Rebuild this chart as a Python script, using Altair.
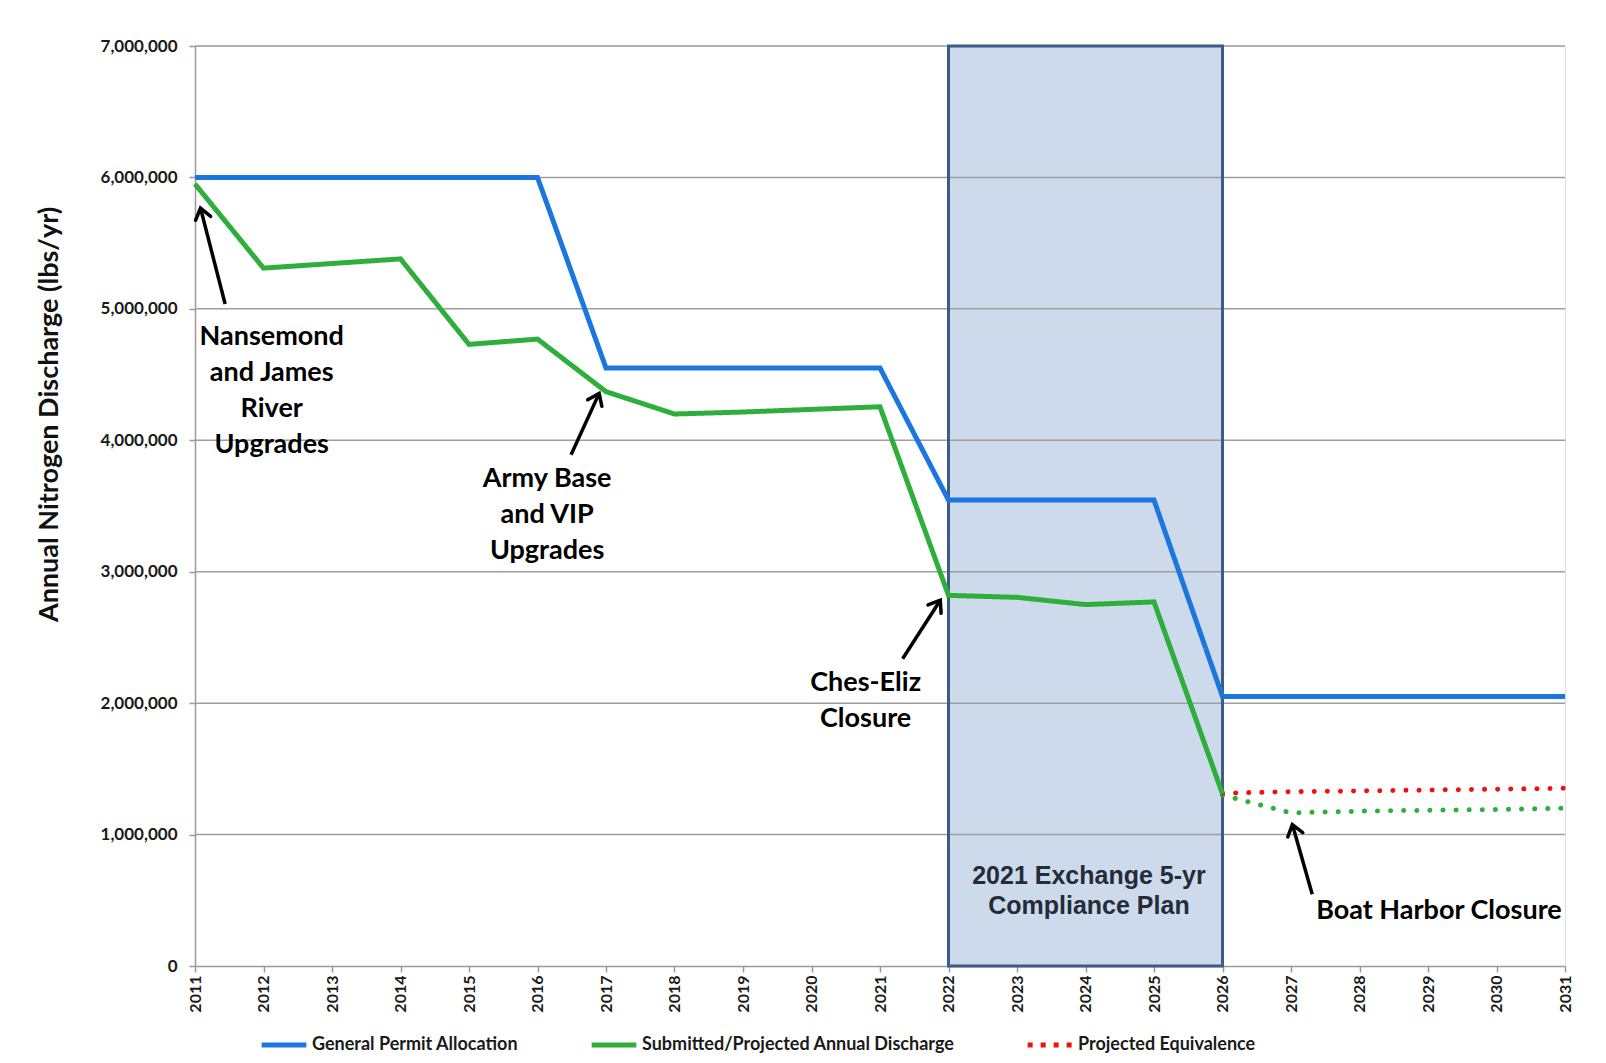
import math
import altair as alt
import pandas as pd

# ---------------- data ----------------
years = [2011, 2012, 2013, 2014, 2015, 2016, 2017, 2018, 2019, 2020, 2021,
         2022, 2023, 2024, 2025, 2026, 2027, 2028, 2029, 2030, 2031]
permit = [6.0e6, 6.0e6, 6.0e6, 6.0e6, 6.0e6, 6.0e6, 4.55e6, 4.55e6, 4.55e6, 4.55e6, 4.55e6,
          3.545e6, 3.545e6, 3.545e6, 3.545e6, 2.05e6, 2.05e6, 2.05e6, 2.05e6, 2.05e6, 2.05e6]

submitted_years = [2011, 2012, 2013, 2014, 2015, 2016, 2017, 2018, 2019, 2020, 2021,
                   2022, 2023, 2024, 2025, 2026]
submitted = [5.95e6, 5.31e6, 5.345e6, 5.38e6, 4.73e6, 4.77e6, 4.37e6, 4.20e6, 4.215e6, 4.235e6,
             4.255e6, 2.82e6, 2.805e6, 2.75e6, 2.77e6, 1.31e6]

proj_years = [2026, 2027, 2028, 2029, 2030, 2031]
equivalence = [1.315e6, 1.326e6, 1.332e6, 1.339e6, 1.345e6, 1.352e6]
projected_discharge = [1.30e6, 1.165e6, 1.178e6, 1.185e6, 1.19e6, 1.20e6]

series_names = ["General Permit Allocation", "Submitted/Projected Annual Discharge",
                "Projected Equivalence"]
series_colors = ["#1B76DE", "#2EAE3B", "#F01010"]

y_ticks = [0, 1000000, 2000000, 3000000, 4000000, 5000000, 6000000, 7000000]

plan_start, plan_end = 2022, 2026
plan_label = "2021 Exchange 5-yr\nCompliance Plan"
plan_label_x, plan_label_y = 2024.05, 0.686e6

notes = ["Nansemond\nand James\nRiver\nUpgrades", "Army Base\nand VIP\nUpgrades",
         "Ches-Eliz\nClosure", "Boat Harbor Closure"]
note_x = [2012.12, 2016.14, 2020.79, 2029.16]
note_y = [4.786e6, 3.702e6, 2.151e6, 0.421e6]

arrow_tail_x = [2011.44, 2016.49, 2021.33, 2027.31]
arrow_tail_y = [5.037e6, 3.89e6, 2.338e6, 0.546e6]
arrow_head_x = [2011.08, 2016.90, 2021.88, 2027.02]
arrow_head_y = [5.767e6, 4.357e6, 2.783e6, 1.076e6]

# ---------------- layout ----------------
W, H = 1370, 920
px_year = W / (years[-1] - years[0])
px_unit = H / y_ticks[-1]

FONT = "Lato"

rows = []
for yr, v in zip(years, permit):
    rows.append({"year": yr, "value": v, "series": series_names[0]})
for yr, v in zip(submitted_years, submitted):
    rows.append({"year": yr, "value": v, "series": series_names[1]})
lines_df = pd.DataFrame(rows)

equiv_df = pd.DataFrame({"year": proj_years, "value": equivalence})
dotted_df = pd.DataFrame({"year": proj_years, "value": projected_discharge})

angles = []
for tx, ty, hx, hy in zip(arrow_tail_x, arrow_tail_y, arrow_head_x, arrow_head_y):
    dx = (hx - tx) * px_year
    dy_up = (hy - ty) * px_unit
    angles.append(math.degrees(math.atan2(dx, dy_up)) % 360)
arrows_df = pd.DataFrame({"year": arrow_tail_x, "value": arrow_tail_y,
                          "hx": arrow_head_x, "hy": arrow_head_y, "angle": angles})
notes_df = pd.DataFrame({"year": note_x, "value": note_y, "text": notes})
plan_df = pd.DataFrame({"year": [plan_start], "x2": [plan_end], "value": [y_ticks[0]],
                        "y2": [y_ticks[-1]], "text": [plan_label],
                        "lx": [plan_label_x], "ly": [plan_label_y]})
grid_df = pd.DataFrame({"value": y_ticks[1:]})

x_scale = alt.Scale(domain=[years[0], years[-1]], nice=False, zero=False)
y_scale = alt.Scale(domain=[y_ticks[0], y_ticks[-1]], nice=False)

x_axis = alt.Axis(values=years, format="d", labelAngle=-90, labelFont=FONT, labelFontSize=16,
                  labelFontWeight="bold", labelColor="#1a1a1a", tickSize=6, tickColor="#9a9a9a",
                  tickWidth=1.5, domainColor="#9a9a9a", domainWidth=1.5, labelPadding=3,
                  grid=False, title=None)
y_axis = alt.Axis(values=y_ticks, labelExpr="format(datum.value, ',d')", labelFont=FONT,
                  labelFontSize=17,
                  labelFontWeight="bold", labelColor="#1a1a1a", tickSize=6, tickColor="#9a9a9a",
                  tickWidth=1.5, domainColor="#9a9a9a", domainWidth=1.5, labelPadding=12,
                  grid=False, title="Annual Nitrogen  Discharge (lbs/yr)", titleFont=FONT,
                  titleFontSize=27, titleFontWeight="bold", titleColor="#111111",
                  titleX=-146, titleY=368, titleAngle=-90, titleAlign="center",
                  titleBaseline="middle")


def X(field="year"):
    return alt.X(f"{field}:Q", scale=x_scale, axis=x_axis, title=None)


def Y(field="value"):
    return alt.Y(f"{field}:Q", scale=y_scale, axis=y_axis,
                 title="Annual Nitrogen  Discharge (lbs/yr)")


rect_fill = alt.Chart(plan_df).mark_rect(color="#CCDAEB").encode(
    x=X(), x2="x2:Q", y=Y(), y2="y2:Q")

grid = alt.Chart(grid_df).mark_rule(color="#9E9E9E", strokeWidth=1.5).encode(y=Y())

rect_stroke = alt.Chart(plan_df).mark_rect(fill=None, stroke="#3B5C88", strokeWidth=3).encode(
    x=X(), x2="x2:Q", y=Y(), y2="y2:Q")

dotted = alt.Chart(dotted_df).mark_line(color=series_colors[1], strokeWidth=5,
                                        strokeDash=[0.1, 13], strokeCap="round").encode(x=X(), y=Y())
equiv = alt.Chart(equiv_df).mark_line(color=series_colors[2], strokeWidth=5,
                                      strokeDash=[0.1, 13], strokeCap="round").encode(x=X(), y=Y())

legend = alt.Legend(title=None, orient="none", legendX=64, legendY=974, direction="horizontal",
                    columns=3, symbolType="stroke", symbolSize=2000, symbolStrokeWidth=5,
                    labelFont=FONT, labelFontSize=18, labelFontWeight="bold", labelLimit=500,
                    labelColor="#1a1a1a", columnPadding=62, labelOffset=3)

lines = alt.Chart(lines_df).mark_line(strokeWidth=5).encode(
    x=X(), y=Y(),
    color=alt.Color("series:N", scale=alt.Scale(domain=series_names, range=series_colors),
                    legend=legend),
    strokeDash=alt.StrokeDash("series:N",
                              scale=alt.Scale(domain=series_names,
                                              range=[[1, 0], [1, 0], [5, 8]]),
                              legend=legend),
)

arrow_lines = alt.Chart(arrows_df).mark_rule(color="black", strokeWidth=3.5).encode(
    x=X(), y=Y(), x2="hx:Q", y2="hy:Q")

arrow_heads = alt.Chart(arrows_df).mark_point(
    shape="M-0.55,0.75L0,0L0.55,0.75", filled=False, stroke="black", strokeWidth=3.5,
    size=800, opacity=1, strokeCap="round").encode(
    x=X("hx"), y=Y("hy"), angle=alt.Angle("angle:Q", scale=None))

note_text = alt.Chart(notes_df).mark_text(font=FONT, fontSize=27, fontWeight="bold", color="black",
                                          align="center", baseline="middle", lineBreak="\n",
                                          lineHeight=36).encode(
    x=X(), y=Y(), text="text:N")

plan_text = alt.Chart(plan_df).mark_text(font="Liberation Sans", fontSize=25, fontWeight="bold",
                                         color="#242C38", align="center", baseline="middle",
                                         lineBreak="\n", lineHeight=30).encode(
    x=X("lx"), y=Y("ly"), text="text:N")

chart = alt.layer(rect_fill, grid, rect_stroke, dotted, equiv, lines, arrow_lines, arrow_heads,
                  note_text, plan_text).properties(
    width=W, height=H,
    autosize=alt.AutoSizeParams(type="none"),
    padding={"left": 187, "top": 38, "right": 33, "bottom": 89},
).configure_view(stroke=None).configure(background="white")

chart.save("out.html", embed_options={"renderer": "svg", "actions": False})
